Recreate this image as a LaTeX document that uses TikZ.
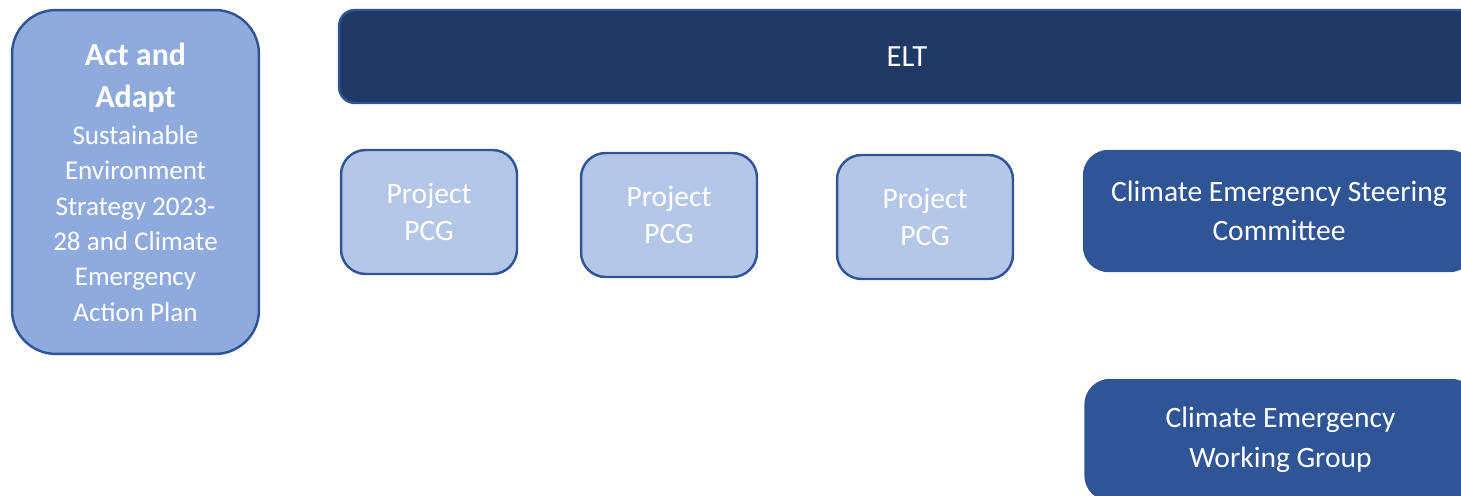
\documentclass[tikz,border=0pt]{standalone}
\usepackage{fontspec}
\setmainfont{Carlito}
\usepackage{tikz}
\usetikzlibrary{positioning}
\definecolor{edgeblue}{HTML}{2F5597}
\definecolor{actfill}{HTML}{8FAADC}
\definecolor{pcgfill}{HTML}{B4C7E7}
\definecolor{eltfill}{HTML}{203864}
\definecolor{cefill}{HTML}{2F5597}
\newcommand{\actbig}{\fontsize{18.2}{23.8}\selectfont\bfseries}
\tikzset{
  box/.style={rounded corners=14pt, draw=edgeblue, line width=1.4pt,
    text=white, align=center, inner sep=0pt},
  actbox/.style={box, fill=actfill, rounded corners=25pt,
    font=\fontsize{15.4}{20.1}\selectfont,
    minimum width=4.94cm, minimum height=6.88cm},
  pcgbox/.style={box, fill=pcgfill, font=\fontsize{16.8}{21.5}\selectfont,
    minimum width=3.52cm, minimum height=2.48cm},
  cebox/.style={box, fill=cefill, draw=cefill, font=\fontsize{16.8}{22.5}\selectfont,
    minimum width=7.8cm, minimum height=2.4cm},
  eltbox/.style={box, fill=eltfill, rounded corners=9pt, font=\fontsize{17.5}{20}\selectfont,
    minimum width=22.72cm, minimum height=1.86cm}
}

\begin{document}
\begin{tikzpicture}[x=0.02cm, y=-0.02cm]
  \clip (0,0) rectangle (1461,496);

  % Strategy box
  \node[actbox] (act) at (135.5,182) {\actbig Act and\\[4pt] \actbig Adapt\\[1pt] Sustainable\\ Environment\\ Strategy 2023-\\ 28 and Climate\\ Emergency\\ Action Plan};

  % Top bar
  \node[eltbox] (elt) at (907,56.5) {ELT};

  % Project boards
  \node[pcgbox] (pcga) at (429,212) {Project\\ PCG};
  \node[pcgbox] (pcgb) at (669,215) {Project\\ PCG};
  \node[pcgbox] (pcgc) at (925,217) {Project\\ PCG};

  % Climate emergency groups
  \node[cebox] (steer) at (1279,211) {Climate Emergency Steering\\ Committee};
  \node[cebox] (work) at (1280.5,440) {Climate Emergency\\ Working Group};

\end{tikzpicture}
\end{document}
